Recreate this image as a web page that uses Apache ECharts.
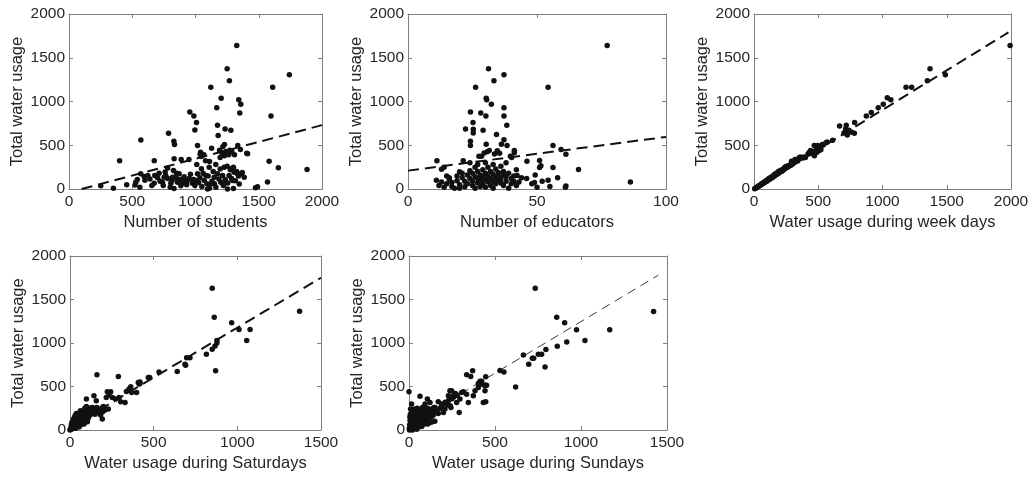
<!DOCTYPE html>
<html>
<head>
<meta charset="utf-8">
<script src="https://cdn.jsdelivr.net/npm/echarts@6/dist/echarts.min.js"></script>
<style>html,body{margin:0;padding:0;background:#fff}#c{width:1033px;height:477px}</style>
</head>
<body>
<div id="c"></div>
<script>
// ---- data ----
const ptsStudents = [
[1326,1640],[1250,1375],[1268,1238],[1742,1306],[1121,1162],[1610,1162],[1203,1036],[1342,1021],[1358,968],[1168,930],[1350,869],[1597,835],[955,880],[987,835],[1008,759],[995,675],[1174,728],[1234,686],[1280,671],[1179,611],[787,637],[829,546],[834,508],[568,561],[400,322],[674,322],[1016,497],[1582,318],[1655,242],[1882,223],[1569,79],[1474,15],[1490,25],
[1229,508],[1216,482],[1190,444],[1208,413],[1242,429],[1271,444],[1287,429],[1308,391],[1334,497],[1355,452],[1405,410],[1263,391],[1229,380],[1195,361],[1127,467],[1040,421],[1045,372],[1066,391],[1079,323],[1111,315],[948,338],[887,338],[1037,396],[1412,404],
[251,38],[351,8],[456,50],[522,46],[528,77],[567,173],[594,142],[623,154],[673,65],[678,154],[712,181],[739,77],[752,135],[765,154],[805,65],[818,135],[826,212],[831,346],[857,77],[871,173],[884,38],[897,115],[916,77],[937,96],[976,65],[1003,96],[1016,173],[1047,231],[1069,96],[1082,154],[1108,250],[1121,58],[1148,135],[1161,19],[1174,173],[1200,77],[1214,154],[1227,250],[1240,77],[1253,0],[1266,154],[1280,231],[1293,96],[1306,192],[1332,173],[1346,58],[1359,173],[1385,135],[1095,0],
[540,110],[560,20],[600,100],[640,115],[655,40],[700,130],[720,90],[745,40],[760,195],[780,120],[800,20],[815,100],[845,130],[850,180],[870,110],[890,60],[910,140],[930,50],[950,120],[960,170],[985,110],[995,40],[1025,75],[1035,130],[1050,30],[1060,180],[1090,60],[1100,150],[1130,90],[1140,200],[1150,60],[1185,115],[1195,230],[1220,40],[1235,110],[1255,70],[1275,220],[1285,120],[1300,5],[1315,95],[1325,200],[1340,150],[1370,190],[830,5],[1110,10],[1250,260],[1160,280],[1010,280],[780,240],[1300,250]
];
const fitStudents = [[100,0],[2000,730]];

const ptsEducators = [
[77.2,1640],[31.2,1375],[37.2,1306],[33.3,1238],[26.2,1162],[54.3,1162],[30.3,1036],[30.5,1021],[32.3,968],[37.2,930],[37.2,835],[38.3,728],[24.2,880],[28.2,869],[30.2,835],[25.2,759],[29.1,671],[22.3,686],[25.3,682],[25.3,639],[34.3,623],[24.2,546],[24.2,497],[30.3,512],[37.2,562],[36.2,512],[38.4,497],[56.2,497],[59.3,451],[61.2,398],[11.2,322],[21.4,322],[46.1,318],[51.0,325],[51.5,265],[51.0,245],[56.2,245],[66.1,223],[86.2,79],[61.2,35],[61.0,20],[49.3,160],[49.0,75],[54.3,100],[42.3,155],[41.2,440],[41.2,414],[39.7,375],[40.2,360],[35.5,410],[33.5,400],[30.7,425],[29.5,412],[31.5,440],[27.5,375],[28.5,375],[34.6,438],
[12,40],[13,80],[14,20],[15,60],[15,150],[16,110],[17,30],[17,75],[18,10],[19,95],[19,150],[20,50],[21,130],[21,180],[22,25],[22,90],[23,160],[23,60],[24,210],[24,120],[25,40],[25,180],[25,90],[26,140],[26,10],[26,250],[27,70],[27,200],[27,120],[28,30],[28,160],[28,100],[29,220],[29,60],[29,140],[30,180],[30,20],[30,110],[31,250],[31,80],[31,150],[32,40],[32,200],[32,120],[33,90],[33,170],[33,10],[34,130],[34,60],[34,230],[35,100],[35,190],[35,150],[36,70],[36,260],[36,120],[37,200],[37,40],[37,160],[38,90],[38,140],[38,300],[39,180],[39,10],[40,60],[40,120],[41,150],[42,40],[42,220],[43,80],[44,130],[11,100],[13,227],[14,250],[16,130],[20,10],[20,196],[24,300],[27,280],[30,300],[33,280],[41,90],[46,120],[48,60],[50,20],[52,90],[55,30],[58,130]
];
const fitEducators = [[0,210],[100,595]];

const ptsWeekdays = [
[1993,1640],[1370,1375],[1349,1238],[1489,1306],[1183,1162],[1227,1162],[1037,1044],[1065,1021],[1006,968],[967,930],[913,873],[874,835],[783,759],[666,719],[718,728],[713,686],[739,671],[760,648],[726,618],[781,637],[700,640],[612,558],[570,538],[531,508],[495,497],[506,440],[519,470],[469,497],[539,502],[455,420],[440,441],[428,403],[388,365],[319,336],[292,318],[470,380],[450,405],[400,360],[350,355],[340,320],[310,300],[300,285],[280,275],[270,265],[260,250],[255,260],[250,245],[240,235],[230,220],[225,225],[220,205],[210,215],[205,200],[200,195],[190,180],[185,190],[180,170],[175,175],[170,165],[160,150],[155,155],[150,145],[140,130],[135,135],[130,125],[120,110],[115,115],[110,105],[100,90],[95,95],[90,85],[80,80],[75,70],[65,65],[60,55],[50,45],[40,35],[30,30],[20,15],[10,8],[5,3],[25,22],[35,35],[45,40],[55,52],[70,62],[85,78],[105,100],[125,118],[145,135],[165,160],[195,185],[215,210],[235,230],[245,238],[265,255],[285,270],[295,290],[320,320],[330,330],[360,365],[380,355],[420,400],[430,420],[480,440],[490,420],[500,465],[520,450],[560,530],[200,205],[150,150],[100,100],[120,125],[175,180],[190,200],[210,200],[250,255],[300,300],[320,310],[240,250],[160,170],[140,140],[60,60],[80,75]
];
const fitWeekdays = [[0,0],[1980,1790]];

const ptsSaturdays = [
[850,1629],[862,1297],[966,1232],[1372,1366],[1010,1156],[1076,1156],[1056,1030],[878,1030],[878,1000],[867,966],[850,928],[815,870],[870,680],[717,830],[697,830],[687,756],[691,745],[641,672],[532,668],[468,603],[408,547],[414,528],[398,431],[289,615],[161,634],
[476,603],[418,553],[418,534],[363,496],[353,470],[369,431],[337,443],[329,317],[253,374],[223,439],[243,439],[233,401],[217,374],[273,355],[293,374],[303,325],[229,241],[193,260],[193,127],[157,336],[143,393],[98,355],[133,260],[163,202],[183,172],[113,202],[84,210],[54,172],
[5,10],[10,30],[15,50],[20,20],[25,60],[30,80],[35,40],[40,100],[45,70],[50,120],[55,90],[60,140],[65,60],[70,110],[75,160],[80,130],[85,90],[90,180],[95,150],[100,200],[105,120],[110,230],[115,170],[120,250],[125,180],[130,200],[140,220],[150,180],[160,260],[170,240],[180,230],[200,270],[210,230],[8,60],[12,90],[18,110],[22,130],[28,150],[32,170],[38,190],[42,140],[48,160],[52,180],[58,200],[62,220],[68,150],[72,180],[78,200],[82,210],[88,250],[92,230],[98,270],[102,180],[108,160],[112,150],[118,190],[122,210],[128,250],[135,240],[145,190],[155,220],[165,200],[185,230],[195,210],[3,5],[6,25],[14,15],[24,40],[34,20],[44,50],[54,35],[64,100],[74,85],[84,70],[94,110],[104,95],[0,0]
];
const fitSaturdays = [[0,30],[1500,1750]];

const ptsSundays = [
[734,1629],[1422,1362],[859,1297],[905,1232],[974,1152],[1167,1152],[1023,1030],[917,1011],[862,962],[796,924],[771,871],[752,871],[725,825],[717,825],[665,863],[696,756],[791,725],[529,684],[552,666],[620,493],[370,680],[335,634],[359,615],[446,611],[451,515],[442,515],[413,561],[403,534],[422,561],[446,325],[292,200],[0,439],[64,389],
[238,450],[248,450],[258,393],[229,393],[306,431],[316,439],[335,412],[296,355],[277,317],[345,317],[374,393],[384,450],[403,488],[413,526],[438,515],[442,450],[432,317],[107,355],[122,317],[93,298],[170,325],[190,298],[209,241],[151,260],[132,241],[200,202],[223,286],[244,260],
[2,20],[4,60],[6,110],[8,180],[10,40],[12,150],[14,80],[16,220],[18,20],[20,120],[22,60],[24,190],[26,100],[28,30],[30,160],[32,240],[34,70],[36,130],[38,200],[40,50],[42,110],[44,170],[46,90],[48,250],[50,140],[52,30],[54,200],[56,80],[58,160],[60,120],[62,230],[64,60],[66,180],[68,100],[70,150],[72,210],[74,40],[76,130],[78,260],[80,90],[82,170],[84,200],[86,120],[88,240],[90,150],[92,70],[95,190],[98,220],[100,110],[104,160],[108,250],[112,130],[116,200],[120,180],[125,230],[130,150],[135,210],[140,170],[145,260],[150,200],[160,230],[170,190],[180,250],[190,280],[200,240],[210,320],[220,300],[230,340],[240,280],[250,360],[260,380],[270,420],[280,400],[5,150],[9,240],[15,300],[3,0],[7,5],[11,10],[20,0],[25,15],[35,20],[45,10],[150,100],[130,90],[110,70]
];
const fitSundays = [[0,60],[1450,1780]];

const xNames = ['Number of students','Number of educators','Water usage during week days','Water usage during Saturdays','Water usage during Sundays'];
const yName = 'Total water usage';
const xMax = [2000, 100, 2000, 1500, 1500];
const xStep = [500, 50, 500, 500, 500];
const yMax = 2000, yStep = 500;

// ---- layout / style ----
const FONT = "'Liberation Sans', Arial, sans-serif";
const AX = '#7f7f7f', TXT = '#262626';
const grids = [
  {left:69, top:14, width:253, height:175},
  {left:408, top:14, width:258, height:175},
  {left:754, top:14, width:257, height:175},
  {left:70, top:256, width:251, height:174},
  {left:409, top:256, width:258, height:174}
];
const pts = [ptsStudents, ptsEducators, ptsWeekdays, ptsSaturdays, ptsSundays];
const fits = [fitStudents, fitEducators, fitWeekdays, fitSaturdays, fitSundays];
const plain = v => String(v);

const xAxes = [], yAxes = [], series = [];
grids.forEach((g, i) => {
  const common = {type:'value', gridIndex:i, splitLine:{show:false},
    axisLine:{show:true, onZero:false, lineStyle:{color:AX, width:1}},
    axisTick:{show:true, inside:true, length:4, lineStyle:{color:AX}}};
  xAxes.push(Object.assign({}, common, {position:'bottom', min:0, max:xMax[i], interval:xStep[i],
    name:xNames[i], nameLocation:'middle', nameGap:25,
    nameTextStyle:{fontSize:16.5, color:TXT, fontFamily:FONT},
    axisLabel:{margin:5, fontSize:15.5, color:TXT, fontFamily:FONT, formatter:plain, showMinLabel:true, showMaxLabel:true}}));
  xAxes.push(Object.assign({}, common, {position:'top', min:0, max:xMax[i], interval:xStep[i], axisLabel:{show:false}}));
  yAxes.push(Object.assign({}, common, {position:'left', min:0, max:yMax, interval:yStep,
    name:yName, nameLocation:'middle', nameGap:43,
    nameTextStyle:{fontSize:16.5, color:TXT, fontFamily:FONT},
    axisLabel:{margin:4, fontSize:15.5, color:TXT, fontFamily:FONT, formatter:plain, showMinLabel:true, showMaxLabel:true}}));
  yAxes.push(Object.assign({}, common, {position:'right', min:0, max:yMax, interval:yStep, axisLabel:{show:false}}));
  const thin = (i === 4);
  series.push({type:'line', xAxisIndex:2*i, yAxisIndex:2*i, data:fits[i], symbol:'none', silent:true, z:2,
    lineStyle:{color: thin ? '#3a3a3a' : '#111', width: thin ? 1 : 2, type: thin ? [9,6] : [11,6]}});
  series.push({type:'scatter', xAxisIndex:2*i, yAxisIndex:2*i, data:pts[i], symbol:'circle', symbolSize:5.5, z:3,
    itemStyle:{color:'#111', opacity:1}});
});

const chart = echarts.init(document.getElementById('c'), null, {renderer:'canvas'});
chart.setOption({animation:false, backgroundColor:'#fff', grid:grids, xAxis:xAxes, yAxis:yAxes, series:series});
</script>
</body>
</html>
